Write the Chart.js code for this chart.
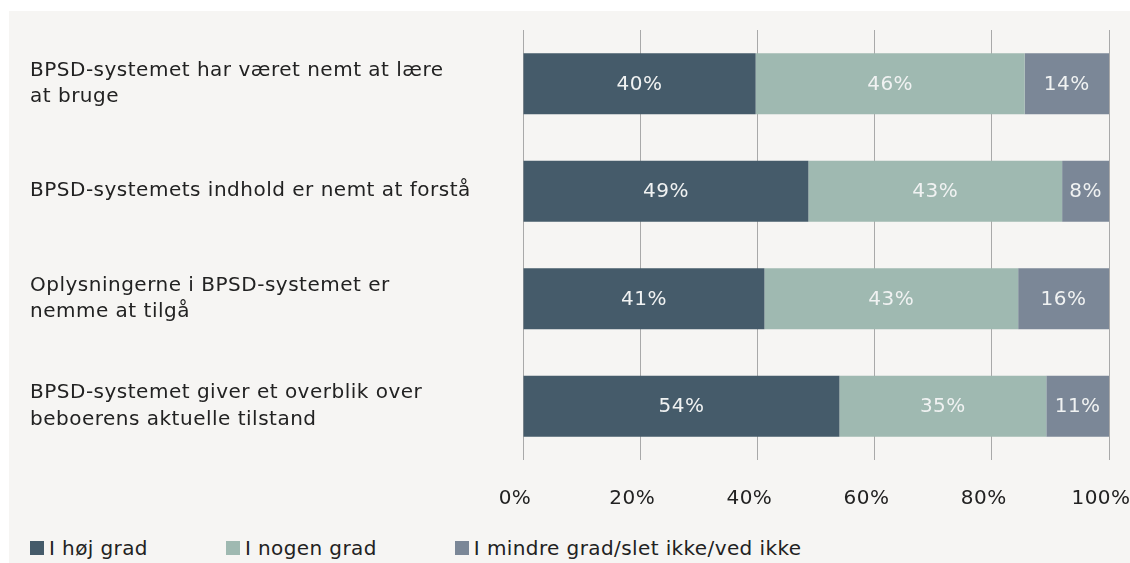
<!DOCTYPE html>
<html lang="da">
<head>
<meta charset="utf-8">
<title>BPSD-systemet</title>
<script src="https://cdn.jsdelivr.net/npm/chart.js@4.4.1/dist/chart.umd.min.js"></script>
<style>
  html, body { margin: 0; padding: 0; background: #ffffff; }
  body { width: 1130px; height: 563px; position: relative; overflow: hidden; font-family: "DejaVu Sans", sans-serif; }
  .panel { position: absolute; left: 9px; top: 11px; width: 1121px; height: 552px; background: #f6f5f3; }
  .chart-box { position: absolute; left: 0; top: 0; width: 1121px; height: 515px; }
  .legend { position: absolute; left: 21px; top: 525px; display: flex; gap: 78px; font-size: 20px; letter-spacing: 0.4px; color: #222; }
  .legend-item { display: flex; align-items: center; }
  .legend-item span.box { width: 14px; height: 14px; margin-right: 5px; display: inline-block; }
</style>
</head>
<body>
<div class="panel">
  <div class="chart-box"><canvas id="grafico"></canvas></div>
  <div class="legend" id="legenda"></div>
</div>
<script>
// Kategorier (flere linjer pr. label)
const categories = [
    ['BPSD-systemet har været nemt at lære', 'at bruge'],
    'BPSD-systemets indhold er nemt at forstå',
    ['Oplysningerne i BPSD-systemet er', 'nemme at tilgå'],
    ['BPSD-systemet giver et overblik over', 'beboerens aktuelle tilstand']
];

const seriesNames = ['I høj grad', 'I nogen grad', 'I mindre grad/slet ikke/ved ikke'];
const hoejGrad = [39.7, 48.7, 41.2, 54.0];
const nogenGrad = [45.9, 43.3, 43.3, 35.3];
const mindreGrad = [14.4, 8.0, 15.5, 10.7];
const seriesColors = ['#455b6a', '#9fb9b1', '#7b8797'];

const xTicks = [0, 20, 40, 60, 80, 100];

const fontFamily = '"DejaVu Sans", sans-serif';

// lidt ekstra sporing, så teksten fylder som i originalen
const tracking = {
    id: 'tracking',
    beforeDraw(chart) {
        chart.ctx.letterSpacing = '0.5px';
    }
};

// Procent-labels inde i søjlerne
const barLabels = {
    id: 'barLabels',
    afterDatasetsDraw(chart) {
        const ctx = chart.ctx;
        ctx.save();
        ctx.font = '20px ' + fontFamily;
        ctx.fillStyle = '#f0f2f2';
        ctx.textAlign = 'center';
        ctx.textBaseline = 'middle';
        chart.data.datasets.forEach((ds, i) => {
            const meta = chart.getDatasetMeta(i);
            meta.data.forEach((bar, j) => {
                const p = bar.getCenterPoint();
                ctx.fillText(Math.round(ds.data[j]) + '%', p.x, p.y + 1);
            });
        });
        ctx.restore();
    }
};

const datasets = [hoejGrad, nogenGrad, mindreGrad].map((values, i) => ({
    label: seriesNames[i],
    data: values,
    backgroundColor: seriesColors[i],
    borderWidth: 0,
    categoryPercentage: 0.567,
    barPercentage: 1
}));

const chart = new Chart(document.getElementById('grafico').getContext('2d'), {
    type: 'bar',
    data: { labels: categories, datasets: datasets },
    options: {
        indexAxis: 'y',
        responsive: true,
        maintainAspectRatio: false,
        animation: false,
        layout: { padding: { top: 19, left: 21, right: 21, bottom: 0 } },
        plugins: {
            legend: { display: false },
            tooltip: { enabled: false }
        },
        scales: {
            x: {
                stacked: true,
                min: 0,
                max: 100,
                afterBuildTicks: (scale) => { scale.ticks = xTicks.map(v => ({ value: v })); },
                afterFit: (scale) => {
                    scale.height = 66;
                    scale.paddingLeft = 0;
                    scale.paddingRight = 0;
                },
                grid: { color: '#a9a9a9', lineWidth: 1, drawTicks: false },
                border: { display: false },
                ticks: {
                    padding: 27,
                    maxRotation: 0,
                    labelOffset: -8,
                    color: '#222',
                    font: { family: fontFamily, size: 20 },
                    callback: (v) => v + '%'
                }
            },
            y: {
                stacked: true,
                afterFit: (scale) => {
                    scale.width = 493;
                    scale.paddingTop = 0;
                    scale.paddingBottom = 0;
                },
                grid: { display: false },
                border: { display: false },
                ticks: {
                    crossAlign: 'far',
                    color: '#222',
                    font: { family: fontFamily, size: 20, lineHeight: 1.33 }
                }
            }
        }
    },
    plugins: [tracking, barLabels]
});

// Legende bygget ud fra datasættene
const legendEl = document.getElementById('legenda');
chart.data.datasets.forEach(ds => {
    const item = document.createElement('div');
    item.className = 'legend-item';
    const box = document.createElement('span');
    box.className = 'box';
    box.style.background = ds.backgroundColor;
    const txt = document.createElement('span');
    txt.textContent = ds.label;
    item.appendChild(box);
    item.appendChild(txt);
    legendEl.appendChild(item);
});
</script>
</body>
</html>
